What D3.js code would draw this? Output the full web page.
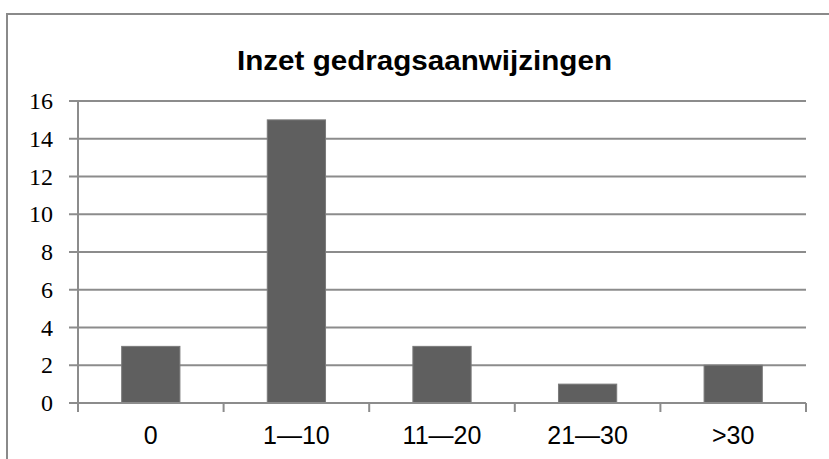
<!DOCTYPE html>
<html>
<head>
<meta charset="utf-8">
<script src="https://cdn.jsdelivr.net/npm/d3@7"></script>
<style>
  body { margin: 0; background: #fff; }
  .ylab { font-family: "Liberation Serif", "DejaVu Serif", serif; font-size: 24px; fill: #000; }
  .xlab { font-family: "Liberation Sans", Arial, sans-serif; font-size: 25px; fill: #000; }
</style>
</head>
<body>
<svg id="chart" width="829" height="459"></svg>
<script>
const categories = ['0', '1\u201410', '11\u201420', '21\u201430', '>30'];
const counts = [3, 15, 3, 1, 2];
const yTicks = [0, 2, 4, 6, 8, 10, 12, 14, 16];
const title = 'Inzet gedragsaanwijzingen';

const svg = d3.select('#chart');
const plotLeft = 78, plotRight = 806, plotTop = 101, plotBottom = 403;

// frame around chart
svg.append('rect')
  .attr('x', 7).attr('y', 14)
  .attr('width', 830).attr('height', 460)
  .attr('fill', 'none')
  .attr('stroke', '#8a8a8a')
  .attr('stroke-width', 2);

svg.append('text')
  .attr('x', 424.5).attr('y', 70)
  .attr('text-anchor', 'middle')
  .attr('textLength', 375)
  .attr('lengthAdjust', 'spacingAndGlyphs')
  .style('font-family', '"Liberation Sans", Arial, sans-serif')
  .style('font-weight', 'bold')
  .style('font-size', '28px')
  .text(title);

const x = d3.scaleBand().domain(categories).range([plotLeft, plotRight]).paddingInner(0.6).paddingOuter(0.3);
const xOuter = d3.scaleBand().domain(categories).range([plotLeft, plotRight]);
const y = d3.scaleLinear().domain([0, 16]).range([plotBottom, plotTop]);

// gridlines + y axis ticks
svg.append('g')
  .selectAll('line')
  .data(yTicks)
  .enter().append('line')
  .attr('x1', plotLeft - 9).attr('x2', plotRight)
  .attr('y1', d => y(d)).attr('y2', d => y(d))
  .attr('stroke', '#8c8c8c')
  .attr('stroke-width', 2);

svg.append('g')
  .selectAll('text')
  .data(yTicks)
  .enter().append('text')
  .attr('class', 'ylab')
  .attr('x', 53)
  .attr('y', d => y(d) + 8)
  .attr('text-anchor', 'end')
  .text(d => d);

// bars
svg.append('g')
  .selectAll('rect')
  .data(counts)
  .enter().append('rect')
  .attr('x', (d, i) => x(categories[i]))
  .attr('y', d => y(d))
  .attr('width', x.bandwidth())
  .attr('height', d => y(0) - y(d))
  .attr('fill', '#5f5f5f')
  .attr('stroke', '#7a7a7a')
  .attr('stroke-width', 1);

// y axis line
svg.append('line')
  .attr('x1', plotLeft).attr('x2', plotLeft)
  .attr('y1', plotTop).attr('y2', plotBottom + 9)
  .attr('stroke', '#8c8c8c').attr('stroke-width', 2);

// x axis
const xAxis = svg.append('g').attr('transform', `translate(0,${plotBottom})`);
xAxis.append('line')
  .attr('x1', plotLeft).attr('x2', plotRight)
  .attr('stroke', '#8c8c8c').attr('stroke-width', 2);
xAxis.selectAll('.tick')
  .data(categories.slice(1).concat(['end']))
  .enter().append('line')
  .attr('x1', (d, i) => i < 4 ? xOuter(d) : plotRight)
  .attr('x2', (d, i) => i < 4 ? xOuter(d) : plotRight)
  .attr('y1', 0).attr('y2', 9)
  .attr('stroke', '#8c8c8c').attr('stroke-width', 2);
xAxis.selectAll('text')
  .data(categories)
  .enter().append('text')
  .attr('class', 'xlab')
  .attr('x', d => xOuter(d) + xOuter.bandwidth() / 2)
  .attr('y', 41)
  .attr('text-anchor', 'middle')
  .text(d => d);
</script>
</body>
</html>
